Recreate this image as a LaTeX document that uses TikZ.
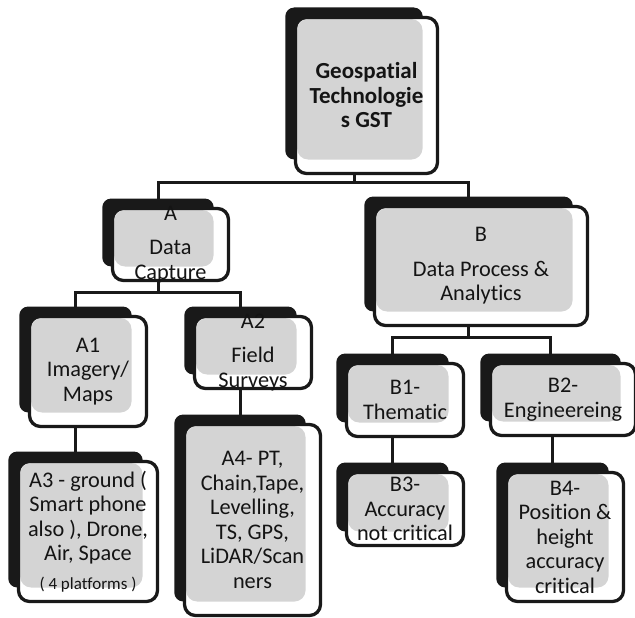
\documentclass[tikz,border=0pt]{standalone}
\usepackage{fontspec}
\setmainfont{Carlito}[Ligatures=NoCommon]
\tikzset{
  shadowbox/.style={draw=none, fill=black!90, rounded corners=9pt, inner sep=0pt, outer sep=0pt},
  mainbox/.style={draw=black!90, line width=3.3pt, fill=white, rounded corners=11pt,
    inner sep=0pt, outer sep=0pt,
    path picture={\fill[black!17] ([xshift=1.6pt,yshift=-1.6pt]path picture bounding box.north west)
      rectangle ([xshift=-15pt,yshift=14pt]path picture bounding box.south east);}},
  boxtext/.style={align=center, inner sep=0pt, text=black!92, font=\fontsize{22.3}{24.5}\selectfont},
  conn/.style={draw=black!90, line width=3pt},
}
% #1 text style, #2 name, #3 x, #4 y, #5 width, #6 height, #7 text
\newcommand\gsnode[7][]{%
  \node[shadowbox, minimum width={#5pt-4.5pt}, minimum height={#6pt-4pt}] (#2s) at (#3-12.5,#4-12) {};
  \node[mainbox, minimum width=#5pt, minimum height=#6pt] (#2) at (#3,#4) {};
  \node[boxtext, #1] (#2t) at (#2.center) {#7};
}
\begin{document}
\begin{tikzpicture}[x=1pt, y=-1pt]
  \useasboundingbox (0,0) rectangle (635,618);
  \clip (0,0) rectangle (635,618);
  \gsnode[font=\fontsize{23}{24.5}\selectfont\bfseries]{GST}{366.5}{95.5}{142}{156}{Geospatial\\Technologie\\s GST}
  \gsnode{A}{170.5}{244.5}{116}{72}{A\\[10pt]Data\\Capture}
  \gsnode{B}{481}{266}{213}{119}{B\\[10pt]Data Process \&\\Analytics}
  \gsnode{A1}{88}{371.5}{117}{110}{A1\\Imagery/\\Maps}
  \gsnode{A2}{253}{352.5}{117}{72}{A2\\[10pt]Field\\Surveys}
  \gsnode{A3}{88}{531.5}{139}{140}{A3 - ground (\\Smart phone\\also ), Drone,\\Air, Space\\[4pt]{\fontsize{17}{19}\selectfont ( 4 platforms )}}
  \gsnode{A4}{252.5}{520}{136}{191}{A4- PT,\\Chain,Tape,\\Levelling,\\TS, GPS,\\LiDAR/Scan\\ners}
  \gsnode{B1}{405}{400}{117}{73}{B1-\\Thematic}
  \gsnode{B2}{563}{399.5}{145}{72}{B2-\\Engineereing}
  \gsnode{B3}{405}{509}{117}{73}{B3-\\Accuracy\\not critical}
  \gsnode{B4}{565}{537}{117}{129}{B4-\\Position \&\\height\\accuracy\\critical}
  % connectors
  \draw[conn] (GSTs |- GST.south) -- ++(0,9) -| (As.north);
  \draw[conn] (GSTs |- GST.south) -- ++(0,9) -| (Bs.north);
  \draw[conn] (As |- A.south) -- ++(0,12) -| (A1s.north);
  \draw[conn] (As |- A.south) -- ++(0,12) -| (A2s.north);
  \draw[conn] (A3s.north |- A1.south) -- (A3s.north);
  \draw[conn] (A4s.north |- A2.south) -- (A4s.north);
  \draw[conn] (Bs |- B.south) -- ++(0,12) -| (B1s.north);
  \draw[conn] (Bs |- B.south) -- ++(0,12) -| (B2s.north);
  \draw[conn] (B3s.north |- B1.south) -- (B3s.north);
  \draw[conn] (B4s.north |- B2.south) -- (B4s.north);
\end{tikzpicture}
\end{document}
